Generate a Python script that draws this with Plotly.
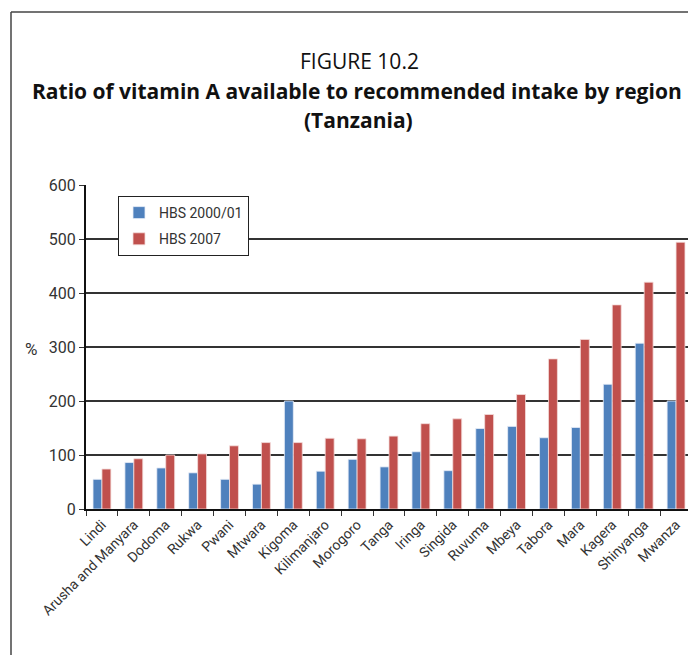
import plotly.graph_objects as go

regions = ["Lindi", "Arusha and Manyara", "Dodoma", "Rukwa", "Pwani", "Mtwara",
           "Kigoma", "Kilimanjaro", "Morogoro", "Tanga", "Iringa", "Singida",
           "Ruvuma", "Mbeya", "Tabora", "Mara", "Kagera", "Shinyanga", "Mwanza"]
hbs_2000 = [55, 86, 76, 67, 55, 46, 200, 70, 92, 78, 106, 71, 149, 153, 132, 151, 231, 307, 200]
hbs_2007 = [74, 93, 100, 102, 117, 123, 123, 131, 130, 135, 158, 167, 175, 212, 278, 314, 378, 420, 494]
y_ticks = [0, 100, 200, 300, 400, 500, 600]

# page body has an 8px margin; work in reference-pixel coordinates and shift
OFF = 8
W, H = 696 - OFF, 655 - OFF
L, R, T, B = 86 - OFF, 4, 185 - OFF, 146
pw, ph = W - L - R, H - T - B

def px(x):
    return (x - OFF - L) / pw

def py(y):
    return (H - B - (y - OFF)) / ph

narrow = "Roboto, Liberation Sans, sans-serif"
title_font = "Open Sans, Noto Sans, sans-serif"

fig = go.Figure()
fig.add_trace(go.Bar(x=regions, y=hbs_2000, name="HBS 2000/01", legendgroup="g1",
                     marker=dict(color="#4F81BD", line=dict(color="#E8EEF7", width=0.8))))
fig.add_trace(go.Bar(x=regions, y=hbs_2007, name="HBS 2007", legendgroup="g2",
                     marker=dict(color="#C0504D", line=dict(color="#F4DCDB", width=0.8))))

fig.update_layout(
    width=W, height=H,
    margin=dict(l=L, r=R, t=T, b=B),
    paper_bgcolor="white", plot_bgcolor="white",
    barmode="group", bargap=0.44, bargroupgap=0,
    showlegend=True,
    legend=dict(x=px(118), y=py(196), xanchor="left", yanchor="top",
                bgcolor="white", bordercolor="#222", borderwidth=1,
                font=dict(family=narrow, size=14, color="#333"),
                itemwidth=30, traceorder="grouped", tracegroupgap=5),
    xaxis=dict(showline=True, linecolor="#111", linewidth=2,
               ticks="outside", tickson="boundaries", ticklen=5, tickcolor="#333",
               tickangle=-45, tickfont=dict(family=narrow, size=14, color="#333"),
               showgrid=False),
    yaxis=dict(range=[0, 600], tickvals=y_ticks, showline=True, linecolor="#111", linewidth=2,
               ticks="outside", ticklen=5, tickcolor="#333",
               tickfont=dict(family=narrow, size=16, color="#333"),
               showgrid=True, gridcolor="#333", gridwidth=1.5, zeroline=False),
    font=dict(family=narrow),
)

annotations = [
    dict(text="FIGURE 10.2", x=px(359), y=py(61), font=dict(family=title_font, size=21, color="#111")),
    dict(text="<b>Ratio of vitamin A available to recommended intake by region</b>", x=px(357), y=py(91),
         font=dict(family=title_font, size=21, color="#111")),
    dict(text="<b>(Tanzania)</b>", x=px(358), y=py(120), font=dict(family=title_font, size=21, color="#111")),
    dict(text="%", x=px(31), y=py(349), font=dict(family=narrow, size=17, color="#333")),
]
for a in annotations:
    a.update(xref="paper", yref="paper", showarrow=False, xanchor="center", yanchor="middle")
    fig.add_annotation(**a)

# outer frame
fig.add_shape(type="line", xref="paper", yref="paper", x0=px(11), x1=px(11), y0=py(12), y1=py(700),
              line=dict(color="#444", width=1.5))
fig.add_shape(type="line", xref="paper", yref="paper", x0=px(11), x1=px(720), y0=py(12), y1=py(12),
              line=dict(color="#444", width=1.5))

fig.write_html("out.html", config={"displayModeBar": False})
